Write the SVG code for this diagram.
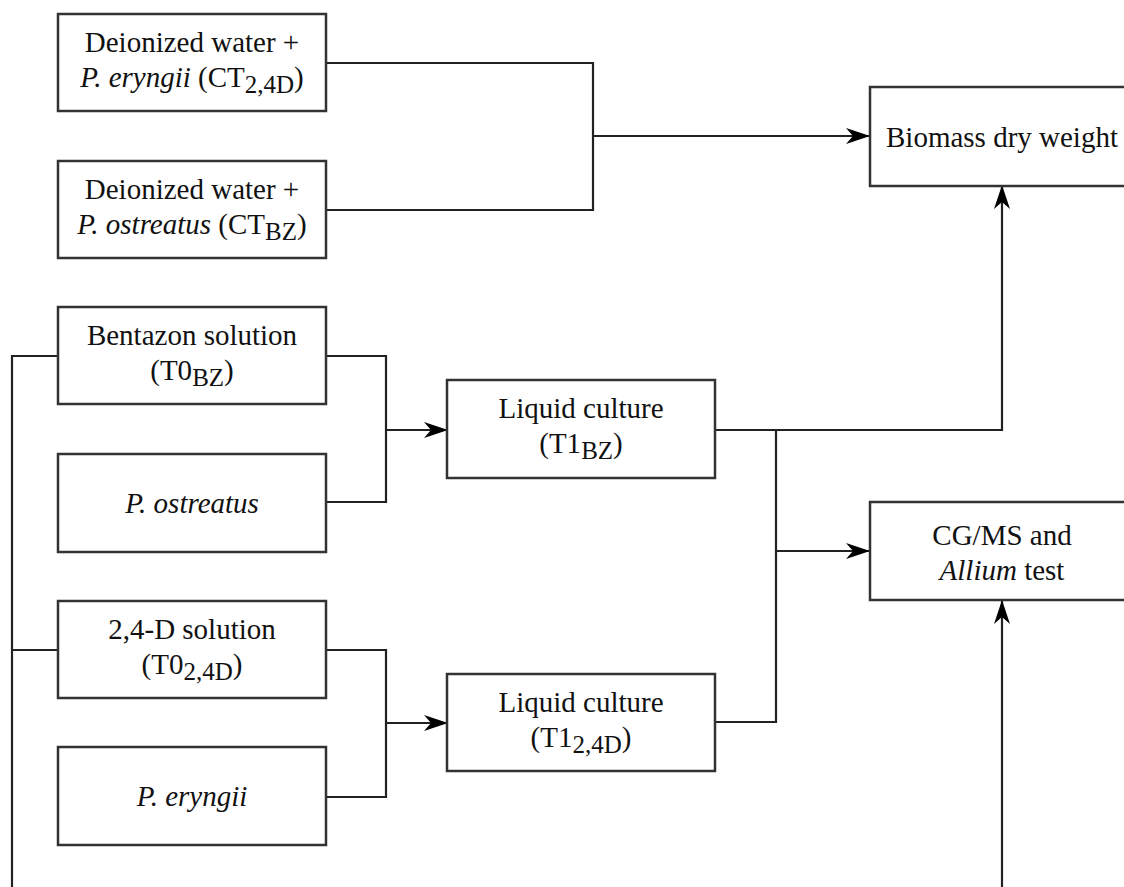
<svg xmlns="http://www.w3.org/2000/svg" width="1124" height="887" viewBox="0 0 1124 887">
<defs>
<style>
.box{fill:#fff;stroke:#333;stroke-width:2.5}
.ln{fill:none;stroke:#222;stroke-width:2.2}
.t{font-family:'Liberation Serif','DejaVu Serif',serif;font-size:29px;fill:#111;text-anchor:middle}
.i{font-style:italic}
.s{font-size:25px}
</style>
<marker id="arr" viewBox="0 0 24 16" markerWidth="24" markerHeight="16" refX="23" refY="8" orient="auto" markerUnits="userSpaceOnUse">
<path d="M0,0 L24,8 L0,16 L7,8 Z" fill="#000"/>
</marker>
</defs>
<rect width="1124" height="887" fill="#fff"/>
<g id="connectors">
<path class="ln" d="M326,63 H593 V210 H326"/>
<path class="ln" d="M593,136 H869" marker-end="url(#arr)"/>
<path class="ln" d="M12,890 V356 H58"/>
<path class="ln" d="M12,650 H58"/>
<path class="ln" d="M326,356 H386 V502 H326"/>
<path class="ln" d="M386,430 H447" marker-end="url(#arr)"/>
<path class="ln" d="M326,650 H386 V797 H326"/>
<path class="ln" d="M386,723 H447" marker-end="url(#arr)"/>
<path class="ln" d="M715,430 H1002 V186" marker-end="url(#arr)"/>
<path class="ln" d="M776,430 V722 H715"/>
<path class="ln" d="M776,551 H869" marker-end="url(#arr)"/>
<path class="ln" d="M1002,890 V601" marker-end="url(#arr)"/>
</g>
<g id="ct24">
<rect class="box" x="58" y="14" width="268" height="97"/>
<text class="t" x="192" y="52" font-family="Liberation Serif, serif">Deionized water +</text>
<text class="t" x="192" y="87"><tspan class="i">P. eryngii</tspan> (CT<tspan class="s" dy="6">2,4D</tspan><tspan dy="-6">)</tspan></text>
</g>
<g id="ctbz">
<rect class="box" x="58" y="161" width="268" height="97"/>
<text class="t" x="192" y="199">Deionized water +</text>
<text class="t" x="192" y="234"><tspan class="i">P. ostreatus</tspan> (CT<tspan class="s" dy="6">BZ</tspan><tspan dy="-6">)</tspan></text>
</g>
<g id="biomass">
<rect class="box" x="870" y="87" width="266" height="99"/>
<text class="t" x="1002" y="147">Biomass dry weight</text>
</g>
<g id="t0bz">
<rect class="box" x="58" y="307" width="268" height="97"/>
<text class="t" x="192" y="345">Bentazon solution</text>
<text class="t" x="192" y="380">(T0<tspan class="s" dy="6">BZ</tspan><tspan dy="-6">)</tspan></text>
</g>
<g id="postreatus">
<rect class="box" x="58" y="454" width="268" height="98"/>
<text class="t i" x="192" y="513">P. ostreatus</text>
</g>
<g id="t1bz">
<rect class="box" x="447" y="380" width="268" height="98"/>
<text class="t" x="581" y="418">Liquid culture</text>
<text class="t" x="581" y="453">(T1<tspan class="s" dy="6">BZ</tspan><tspan dy="-6">)</tspan></text>
</g>
<g id="cgms">
<rect class="box" x="870" y="502" width="266" height="98"/>
<text class="t" x="1002" y="545">CG/MS and</text>
<text class="t" x="1002" y="580"><tspan class="i">Allium</tspan> test</text>
</g>
<g id="t024d">
<rect class="box" x="58" y="601" width="268" height="97"/>
<text class="t" x="192" y="639">2,4-D solution</text>
<text class="t" x="192" y="674">(T0<tspan class="s" dy="6">2,4D</tspan><tspan dy="-6">)</tspan></text>
</g>
<g id="peryngii">
<rect class="box" x="58" y="747" width="268" height="98"/>
<text class="t i" x="192" y="806">P. eryngii</text>
</g>
<g id="t124d">
<rect class="box" x="447" y="674" width="268" height="97"/>
<text class="t" x="581" y="712">Liquid culture</text>
<text class="t" x="581" y="747">(T1<tspan class="s" dy="6">2,4D</tspan><tspan dy="-6">)</tspan></text>
</g>
</svg>
